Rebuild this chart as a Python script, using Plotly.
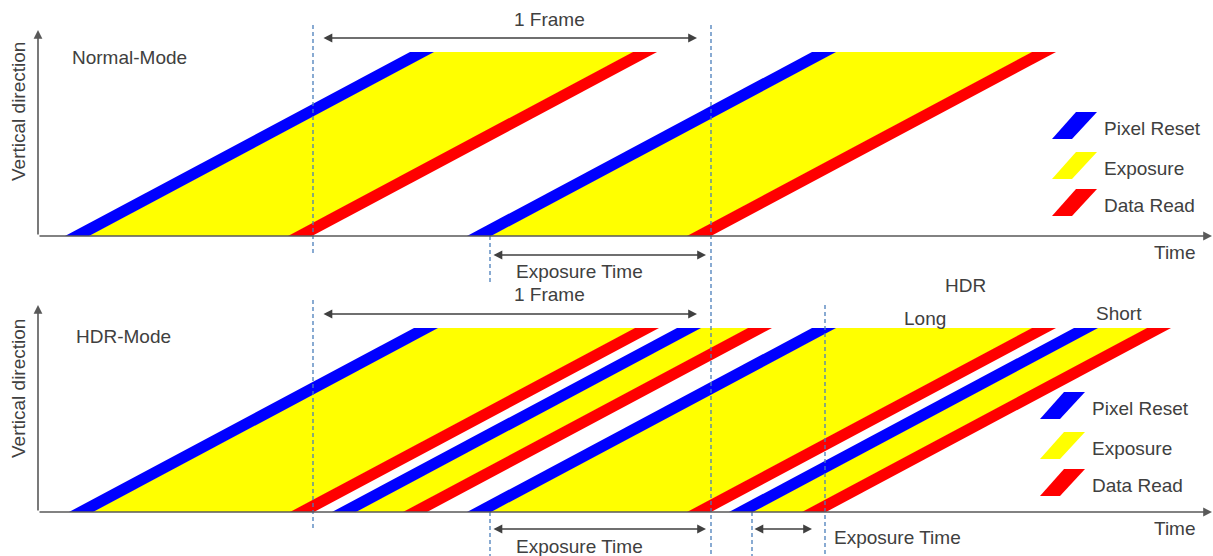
import plotly.graph_objects as go

W, H = 1213, 556

# time at which each band starts on the bottom sensor row (time axis units)
NORMAL_RESET = [65, 467]
NORMAL_READ = [288, 687]
HDR_RESET = [69, 332, 467, 729]
HDR_READ = [290, 403, 687, 802]

SWEEP = 345   # time for a band to roll from bottom row to top row
BAND = 24     # duration of a reset / read band

# panel geometry: row of time axis, row of top sensor line, top of y arrow
PANEL_BASE = [236, 512]
PANEL_TOP = [52, 328]
AXIS_TOP = [30, 305]
AXIS_LEFT = 38
VDIR_Y = [112, 389]

MODE_LABELS = ["Normal-Mode", "HDR-Mode"]
LEGEND_NAMES = ["Pixel Reset", "Exposure", "Data Read"]
LEGEND_X = [1052, 1040]
LEGEND_Y = [[112, 152, 189], [392, 432, 469]]

BLUE, YELLOW, RED = "#0000FF", "#FFFF00", "#FF0000"
LEGEND_COLORS = [BLUE, YELLOW, RED]
TXT = "#404040"
AX = "#595959"
DASH = "#4a7ebb"
FONT = "Liberation Sans, Arial, sans-serif"

fig = go.Figure()
shapes = []
annots = []


def poly(xs, ys, color):
    fig.add_trace(go.Scatter(x=xs, y=ys, fill="toself", fillcolor=color,
                             mode="lines", line=dict(width=0, color=color),
                             hoverinfo="skip", showlegend=False))


def band(t0, t1, base, top, color):
    poly([t0, t1, t1 + SWEEP, t0 + SWEEP, t0],
         [base, base, top, top, base], color)


def frames(resets, reads, base, top):
    for r, d in zip(resets, reads):
        band(r + BAND - 1, d + 1, base, top, YELLOW)
        band(r, r + BAND, base, top, BLUE)
        band(d, d + BAND, base, top, RED)


def arrow(x, y, ax, ay, both=False):
    annots.append(dict(x=x, y=y, ax=ax, ay=ay, xref="x", yref="y",
                       axref="x", ayref="y", text="", showarrow=True,
                       arrowhead=2, arrowsize=1.1, arrowwidth=1.6,
                       arrowcolor=AX if not both else TXT,
                       arrowside="end+start" if both else "end",
                       standoff=0, startstandoff=0))


def label(x, y, text, anchor="center", angle=0):
    annots.append(dict(x=x, y=y, xref="x", yref="y", text=text,
                       showarrow=False, xanchor=anchor, yanchor="middle",
                       textangle=angle,
                       font=dict(size=19, color=TXT, family=FONT)))


def dashed(x, y0, y1):
    shapes.append(dict(type="line", x0=x, x1=x, y0=y0, y1=y1, xref="x",
                       yref="y",
                       line=dict(color=DASH, width=1.3, dash="4px,3px")))


frames(NORMAL_RESET, NORMAL_READ, PANEL_BASE[0], PANEL_TOP[0])
frames(HDR_RESET, HDR_READ, PANEL_BASE[1], PANEL_TOP[1])

# legend swatches
for p in range(2):
    for i, name in enumerate(LEGEND_NAMES):
        x0, y0 = LEGEND_X[p], LEGEND_Y[p][i]
        poly([x0, x0 + 20, x0 + 45, x0 + 24, x0],
             [y0 + 27, y0 + 27, y0, y0, y0 + 27], LEGEND_COLORS[i])
        label(x0 + 50, y0 + 16, name, anchor="left")

for p in range(2):
    base = PANEL_BASE[p]
    arrow(AXIS_LEFT, AXIS_TOP[p], AXIS_LEFT, base)
    arrow(W - 1, base, AXIS_LEFT, base)
    label(1175, base + 16, "Time")
    label(18, VDIR_Y[p], "Vertical direction", angle=-90)

label(70, 57, MODE_LABELS[0], anchor="left")
label(74, 336, MODE_LABELS[1], anchor="left")

# frame and exposure markers derived from band timings
frame_start = NORMAL_READ[0] + BAND + 1
frame_end = NORMAL_READ[1] + BAND
exp_start = NORMAL_RESET[1] + BAND - 1
short_start = HDR_RESET[3] + BAND - 1
short_end = HDR_READ[3] + BAND - 1

dashed(frame_start, 25, 255)
dashed(frame_end, 25, 556)
dashed(exp_start, 236, 282)
dashed(frame_start, 300, 530)
dashed(exp_start, 512, 556)
dashed(short_start, 512, 556)
dashed(short_end, 305, 556)

for y_arr, y_txt in [(38, 19), (314, 294)]:
    arrow(frame_end - 14, y_arr, frame_start + 9, y_arr, both=True)
    label((frame_start + frame_end) / 2 + 37, y_txt, "1 Frame")

for y_arr, y_txt in [(255, 271), (529, 546)]:
    arrow(frame_end - 5, y_arr, exp_start + 2, y_arr, both=True)
    label(579, y_txt, "Exposure Time")

arrow(short_end - 13, 529, short_start + 1, 529, both=True)
label(832, 537, "Exposure Time", anchor="left")
label(965, 285, "HDR")
label(925, 318, "Long")
label(1119, 313, "Short")

fig.update_layout(
    width=W, height=H, margin=dict(l=0, r=0, t=0, b=0),
    paper_bgcolor="white", plot_bgcolor="white",
    xaxis=dict(range=[0, W], visible=False, fixedrange=True),
    yaxis=dict(range=[H, 0], visible=False, fixedrange=True),
    shapes=shapes, annotations=annots, showlegend=False,
)

fig.write_html("out.html", config={"displayModeBar": False},
               post_script="document.body.style.margin = '0';")
